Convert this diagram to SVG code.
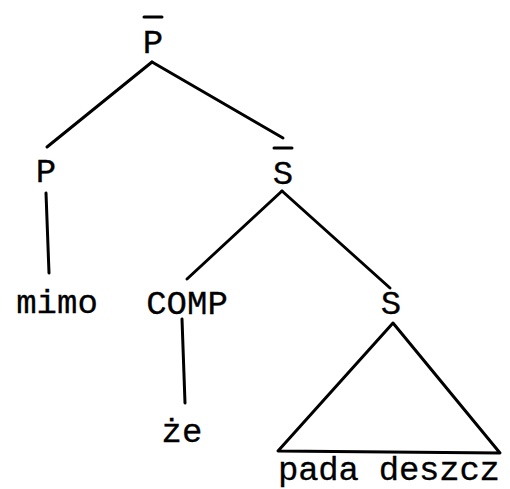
<svg xmlns="http://www.w3.org/2000/svg" width="510" height="489" viewBox="0 0 510 489">
<style>
text{font-family:"Liberation Mono","Courier New",monospace;font-size:34px;fill:#000;stroke:#000;stroke-width:0.3;text-anchor:middle}
line,polygon{stroke:#000;stroke-width:3;stroke-linecap:round;fill:none}
</style>
<rect width="510" height="489" fill="#fff"/>
<g id="connectors">
<line x1="152" y1="62" x2="47" y2="147"/>
<line x1="152" y1="62" x2="283" y2="138"/>
<line x1="46" y1="193" x2="49" y2="273"/>
<line x1="282" y1="191" x2="187" y2="279"/>
<line x1="282" y1="191" x2="390" y2="288"/>
<line x1="182" y1="319" x2="185" y2="403"/>
</g>
<g id="node-Pbar"><text x="153" y="53">P</text><line x1="144" y1="17" x2="162" y2="17"/></g>
<g id="node-P"><text x="46" y="182">P</text></g>
<g id="node-Sbar"><text x="283" y="184">S</text><line x1="274" y1="148" x2="292" y2="148"/></g>
<g id="node-mimo"><text x="57" y="313">mimo</text></g>
<g id="node-COMP"><text x="187" y="314">COMP</text></g>
<g id="node-S"><text x="391" y="314">S</text></g>
<g id="node-ze"><text x="182" y="442">że</text></g>
<g id="node-triangle"><polygon points="393,323 278,451 500,453" stroke-linejoin="round"/></g>
<g id="node-pada"><text x="389" y="480" textLength="222" lengthAdjust="spacing">pada deszcz</text></g>
</svg>
